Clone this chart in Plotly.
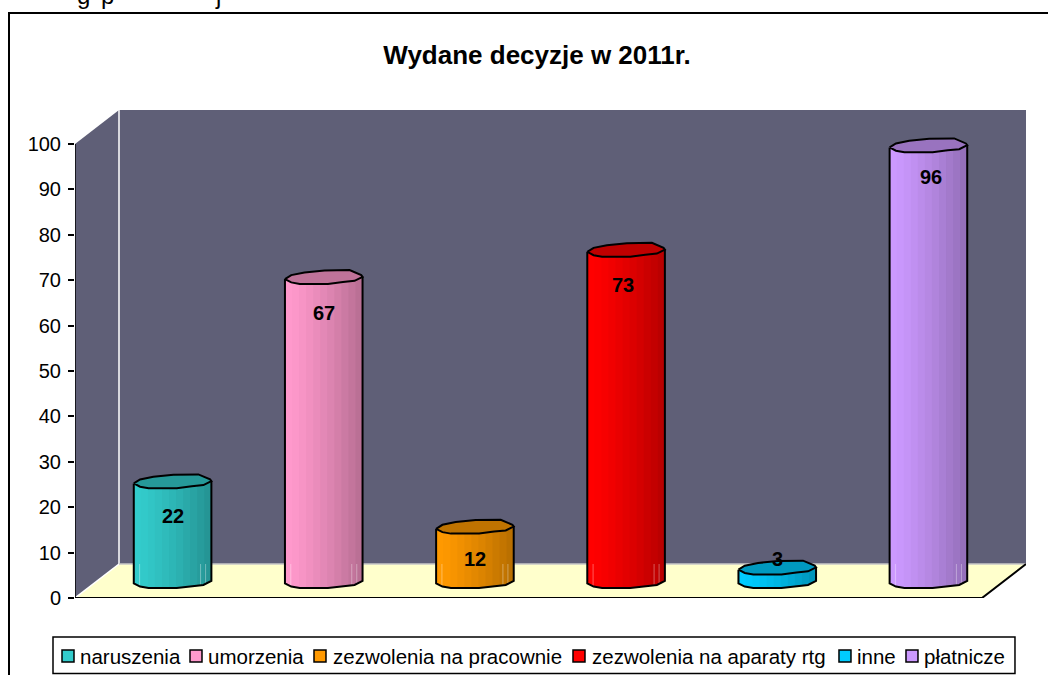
import numpy as np
import plotly.graph_objects as go

# ---- data ----
categories = ["naruszenia", "umorzenia", "zezwolenia na pracownie",
              "zezwolenia na aparaty rtg", "inne", "płatnicze"]
values = [22, 67, 12, 73, 3, 96]
colors = ["#33CCCC", "#FF99CC", "#FF9900", "#FF0000", "#00CCFF", "#CC99FF"]
y_ticks = list(range(0, 101, 10))
title_text = "Wydane decyzje w 2011r."
cut_text = ["g", "p", "j"]

# ---- page geometry (pixels) ----
W, H = 1048, 675
X0, Y0 = 75, 598            # origin of the value axis
PX_CAT = 151.17             # pixels per category
PX_VAL = 4.54               # pixels per value unit
DEPTH_PX = (44, 34)         # oblique depth of the box
RIGHT = X0 + 6 * PX_CAT + DEPTH_PX[0]
TOP = Y0 - 100 * PX_VAL - DEPTH_PX[1]
DX = DEPTH_PX[0] / PX_CAT
DY = DEPTH_PX[1] / PX_VAL
BASE = 3.24                 # cylinder base above the axis floor
WALL, FLOOR = "#5F5F77", "#FFFFCC"
FONT = "Liberation Sans"

# cylinder outline (pixels from the left-edge level, slightly irregular like the source)
UPPER = [(-38.8, 0), (-32.5, -4), (-19.2, -6.7), (0.8, -8.7), (25.8, -9), (37.5, -4), (38.8, -2.3)]
LOWER = [(-38.8, 0), (-32.5, 3.3), (-24, 4.8), (4.2, 4.8), (19.2, 2.8), (30.8, 1.7), (38.8, -2.3)]
GLINTS = [-33, 28, 33]      # faint light lines where the floor shows through
N_BANDS = 11


def shade(hex_color, f):
    r, g, b = (int(hex_color[i:i + 2], 16) for i in (1, 3, 5))
    return f"rgb({round(r * f)},{round(g * f)},{round(b * f)})"


def px_x(x):
    return (x - X0) / (RIGHT - X0)


def px_y(y):
    return (Y0 - y) / (Y0 - TOP)


fig = go.Figure()


def poly(xs, ys, fill=None, line=None, width=0, name=None):
    fig.add_trace(go.Scatter(
        x=list(xs), y=list(ys), mode="lines", hoverinfo="skip", showlegend=False,
        fill="toself" if fill else None, fillcolor=fill, name=name,
        line=dict(color=line or "rgba(0,0,0,0)", width=width), cliponaxis=False))


# box: walls and floor
poly([0, DX, DX, 0, 0], [0, DY, 100 + DY, 100, 0], WALL)
poly([DX, 6 + DX, 6 + DX, DX, DX], [DY, DY, 100 + DY, 100 + DY, DY], WALL)
poly([0, 6, 6 + DX, DX, 0], [0, 0, DY, DY, 0], FLOOR)
poly([DX, DX], [DY, 100 + DY], line="#FFFFFF", width=1.5)
poly([0, DX], [0, DY], line="#FFFFFF", width=1.5)
poly([DX, 6 + DX], [DY, DY], line="#C8C8C8", width=1.5)
poly([0, 0], [0, 100], line="#000000", width=1.5)
poly([0, 6, 6 + DX], [0, 0, DY], line="#000000", width=2)

# cylinders
up = np.array(UPPER)
lo = np.array(LOWER)
for i, (cat, val, col) in enumerate(zip(categories, values, colors)):
    cx = i + 0.5 + DX / 2
    top_level = BASE + val
    edges = np.linspace(lo[0, 0], lo[-1, 0], N_BANDS + 1)[:-1]
    for k, e in enumerate(edges):
        xp = np.unique(np.r_[e, lo[lo[:, 0] > e, 0]])
        dyp = np.interp(xp, lo[:, 0], lo[:, 1])
        xs = np.r_[xp, xp[::-1]] / PX_CAT + cx
        ys = np.r_[top_level - dyp / PX_VAL, (BASE - dyp / PX_VAL)[::-1]]
        poly(xs, ys, shade(col, 1 - 0.27 * (k / (N_BANDS - 1)) ** 1.3), name=cat)
    if top_level > DY:
        for g in GLINTS:
            poly([cx + g / PX_CAT] * 2, [DY, BASE - np.interp(g, lo[:, 0], lo[:, 1]) / PX_VAL],
                 line="rgba(255,255,255,0.35)", width=1, name=cat)
    # side outline
    xo = np.r_[lo[0, 0], lo[:, 0], lo[-1, 0]] / PX_CAT + cx
    yo = np.r_[top_level, BASE - lo[:, 1] / PX_VAL, top_level - lo[-1, 1] / PX_VAL]
    poly(xo, yo, line="#000000", width=2, name=cat)
    # cap
    cap = np.vstack([up, lo[::-1]])
    poly(cap[:, 0] / PX_CAT + cx, top_level - cap[:, 1] / PX_VAL,
         shade(col, 0.75), "#000000", 2, name=cat)

# data labels (offset in pixels from the cylinder top)
label_shift = [-33, -34, -30, -33, 11, -30]
label_xshift = [0, 0, 0, -3, 0, 3]
annotations = []
for i, (val, s, xs) in enumerate(zip(values, label_shift, label_xshift)):
    annotations.append(dict(x=i + 0.5 + DX / 2, y=BASE + val, yshift=s, xshift=xs, text=f"<b>{val}</b>",
                            showarrow=False, font=dict(family=FONT, size=20, color="#000000")))

# legend: keys and names
key_x = [62, 190, 314, 573, 839, 906]
text_x = [80, 208, 333, 592, 857, 924]
KEY_SIZE, KEY_Y = 12, 650
shapes = [
    dict(type="rect", xref="paper", yref="paper", x0=px_x(9), x1=px_x(W + 20),
         y0=px_y(H + 20), y1=px_y(13), line=dict(color="#000000", width=2), layer="below"),
    dict(type="rect", xref="paper", yref="paper", x0=px_x(53), x1=px_x(1015),
         y0=px_y(673.5), y1=px_y(637), line=dict(color="#000000", width=1.5)),
]
for kx, tx, cat, col in zip(key_x, text_x, categories, colors):
    shapes.append(dict(type="rect", xref="paper", yref="paper", x0=px_x(kx), x1=px_x(kx + KEY_SIZE),
                       y0=px_y(KEY_Y + KEY_SIZE), y1=px_y(KEY_Y), fillcolor=col,
                       line=dict(color="#000000", width=1.5)))
    annotations.append(dict(xref="paper", yref="paper", x=px_x(tx), y=px_y(656.5), text=cat,
                            xanchor="left", yanchor="middle", xshift=-2, showarrow=False,
                            font=dict(family=FONT, size=20.5, color="#000000")))

# fragments of the body text line cut by the page top
for t, x in zip(cut_text, [84, 108, 218]):
    annotations.append(dict(xref="paper", yref="paper", x=px_x(x), y=px_y(-13), text=t,
                            xanchor="center", yanchor="middle", yshift=-8, showarrow=False,
                            font=dict(family=FONT, size=24, color="#000000")))

fig.update_layout(
    width=W, height=H, paper_bgcolor="#FFFFFF", plot_bgcolor="rgba(0,0,0,0)",
    margin=dict(l=X0, r=W - RIGHT, t=TOP, b=H - Y0, autoexpand=False), showlegend=False,
    title=dict(text=f"<b>{title_text}</b>", x=537 / W, xref="container", xanchor="center",
               y=1 - 55 / H, yref="container", yanchor="middle",
               font=dict(family=FONT, size=26, color="#000000")),
    xaxis=dict(range=[0, 6 + DX], visible=False, fixedrange=True),
    yaxis=dict(range=[0, 100 + DY], tickmode="array", tickvals=y_ticks, ticks="outside", ticklen=6,
               tickwidth=1.5, tickcolor="#000000", showgrid=False, zeroline=False, showline=False,
               ticklabelstandoff=3, tickfont=dict(family=FONT, size=20, color="#000000"),
               fixedrange=True),
    shapes=shapes, annotations=annotations,
)

fig.write_html("out.html", config=dict(displayModeBar=False),
               post_script="document.body.style.margin='0';document.body.style.overflow='hidden';")
